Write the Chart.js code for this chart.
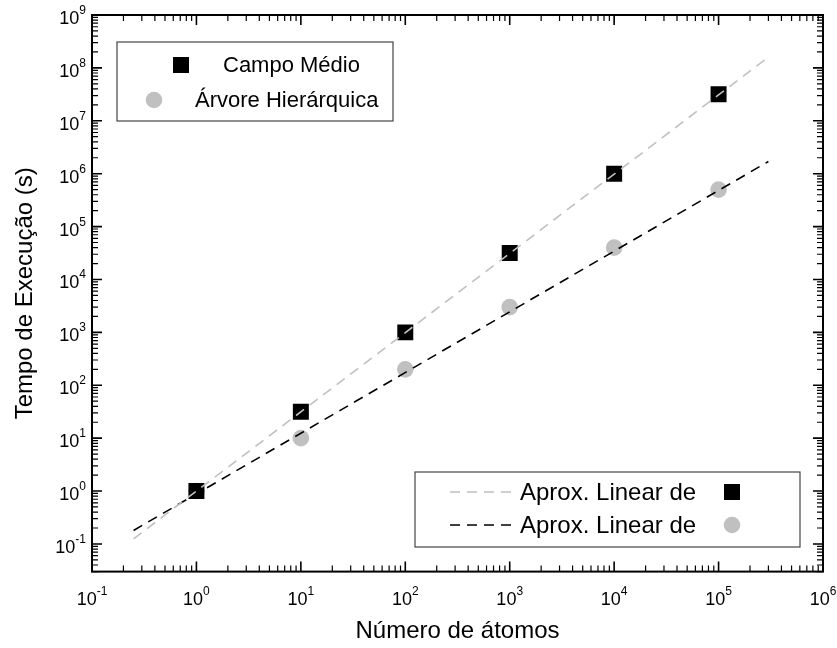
<!DOCTYPE html>
<html lang="pt-br">
<head>
<meta charset="UTF-8">
<title>Tempo de Execução x Número de átomos</title>
<script src="https://cdn.jsdelivr.net/npm/chart.js"></script>
<style>
    body { margin: 0; background: #fff; }
    #wrap { width: 837px; height: 648px; }
</style>
</head>
<body>
<div id="wrap"><canvas id="grafico" width="837" height="648"></canvas></div>
<script>
    // Dados medidos
    const atomos = [1, 10, 100, 1000, 10000, 100000];
    const tempoCampoMedio = [1, 31.6, 1000, 31600, 1000000, 31600000];
    const tempoArvore = [1, 10, 200, 3000, 40000, 500000];

    // Pontas das retas de ajuste (log-log)
    const ajusteX = [0.25, 300000];
    const ajusteCampoMedio = [0.125, 160000000];
    const ajusteArvore = [0.18, 1700000];

    // Expoentes dos rótulos dos eixos
    const expoentesX = [-1, 0, 1, 2, 3, 4, 5, 6];
    const expoentesY = [-1, 0, 1, 2, 3, 4, 5, 6, 7, 8, 9];

    const nomeCampo = 'Campo Médio';
    const nomeArvore = 'Árvore Hierárquica';
    const nomeAjuste = 'Aprox. Linear de';

    const FONTE = "'Liberation Sans', Arial, sans-serif";
    const CINZA = '#c0c0c0';

    const pares = (xs, ys) => xs.map((x, i) => ({ x: x, y: ys[i] }));

    // Moldura, ticks para dentro, rótulos 10^n e as duas legendas
    const molduraPlugin = {
        id: 'moldura',
        afterDatasetsDraw(chart) {
            const { ctx, chartArea: { left, right, top, bottom }, scales: { x, y } } = chart;
            ctx.save();
            ctx.strokeStyle = '#000';

            // ticks menores e maiores
            const tick = (px, maior, horiz) => {
                const len = maior ? 10 : 6;
                ctx.lineWidth = maior ? 1.6 : 1.2;
                ctx.beginPath();
                if (horiz) {
                    ctx.moveTo(px, bottom); ctx.lineTo(px, bottom - len);
                    ctx.moveTo(px, top); ctx.lineTo(px, top + len);
                } else {
                    ctx.moveTo(left, px); ctx.lineTo(left + len, px);
                    ctx.moveTo(right, px); ctx.lineTo(right - len, px);
                }
                ctx.stroke();
            };
            const marcar = (escala, horiz) => {
                const e0 = Math.floor(Math.log10(escala.min));
                const e1 = Math.ceil(Math.log10(escala.max));
                for (let e = e0; e <= e1; e++) {
                    for (let m = 1; m < 10; m++) {
                        const v = m * Math.pow(10, e);
                        if (v < escala.min * 0.999 || v > escala.max * 1.001) continue;
                        tick(escala.getPixelForValue(v), m === 1, horiz);
                    }
                }
            };
            marcar(x, true);
            marcar(y, false);

            ctx.lineWidth = 2;
            ctx.strokeRect(left, top, right - left, bottom - top);

            // rótulos 10^n
            ctx.fillStyle = '#000';
            ctx.textBaseline = 'alphabetic';
            const fBase = '18px ' + FONTE, fSup = '12px ' + FONTE;
            expoentesX.forEach(n => {
                const px = x.getPixelForValue(Math.pow(10, n));
                ctx.font = fBase; const wb = ctx.measureText('10').width;
                ctx.font = fSup; const ws = ctx.measureText(String(n)).width;
                const x0 = px - (wb + ws) / 2;
                ctx.font = fBase; ctx.textAlign = 'left';
                ctx.fillText('10', x0, bottom + 33);
                ctx.font = fSup;
                ctx.fillText(String(n), x0 + wb, bottom + 23);
            });
            expoentesY.forEach(n => {
                const py = y.getPixelForValue(Math.pow(10, n));
                ctx.font = fSup; const ws = ctx.measureText(String(n)).width;
                ctx.font = fBase; const wb = ctx.measureText('10').width;
                const x1 = left - 6;
                ctx.textAlign = 'left';
                ctx.fillText('10', x1 - ws - wb, py + 9);
                ctx.font = fSup;
                ctx.fillText(String(n), x1 - ws, py - 1);
            });

            const ds = chart.data.datasets;
            const simbolo = (d, cx, cy) => {
                ctx.fillStyle = d.backgroundColor;
                if (d.pointStyle === 'rect') {
                    const s = d.pointRadius * Math.SQRT1_2;
                    ctx.fillRect(cx - s, cy - s, 2 * s, 2 * s);
                } else {
                    ctx.beginPath();
                    ctx.arc(cx, cy, d.pointRadius, 0, 2 * Math.PI);
                    ctx.fill();
                }
            };
            const caixa = (bx, by, bw, bh) => {
                ctx.fillStyle = '#fff';
                ctx.fillRect(bx, by, bw, bh);
                ctx.strokeStyle = '#444';
                ctx.lineWidth = 1.2;
                ctx.strokeRect(bx, by, bw, bh);
            };

            ctx.textBaseline = 'middle';
            ctx.textAlign = 'left';

            // legenda dos pontos
            const lx = left + 25, ly = top + 27;
            caixa(lx, ly, 276, 79);
            ctx.font = '22px ' + FONTE;
            simbolo(ds[2], lx + 64, ly + 23);
            ctx.fillStyle = '#000';
            ctx.fillText(ds[2].label, lx + 106, ly + 24);
            simbolo(ds[3], lx + 37, ly + 58);
            ctx.fillStyle = '#000';
            ctx.fillText(ds[3].label, lx + 78, ly + 59);

            // legenda das retas
            const rx = left + 323, ry = top + 457;
            caixa(rx, ry, 385, 75);
            ctx.font = '24px ' + FONTE;
            [[ds[0], ds[2], 20], [ds[1], ds[3], 53]].forEach(([reta, ponto, dy]) => {
                ctx.strokeStyle = reta.borderColor;
                ctx.lineWidth = reta.borderWidth;
                ctx.setLineDash(reta.borderDash);
                ctx.beginPath();
                ctx.moveTo(rx + 35, ry + dy);
                ctx.lineTo(rx + 97, ry + dy);
                ctx.stroke();
                ctx.setLineDash([]);
                ctx.fillStyle = '#000';
                ctx.fillText(reta.label, rx + 105, ry + dy + 1);
                simbolo(ponto, rx + 317, ry + dy);
            });
            ctx.restore();
        }
    };

    new Chart(document.getElementById('grafico'), {
        type: 'scatter',
        data: {
            datasets: [
                {
                    label: nomeAjuste,
                    data: pares(ajusteX, ajusteCampoMedio),
                    showLine: true,
                    borderColor: CINZA,
                    borderWidth: 1.6,
                    borderDash: [10, 7],
                    pointRadius: 0,
                    order: 0
                },
                {
                    label: nomeAjuste,
                    data: pares(ajusteX, ajusteArvore),
                    showLine: true,
                    borderColor: '#000',
                    borderWidth: 1.6,
                    borderDash: [10, 7],
                    pointRadius: 0,
                    order: 1
                },
                {
                    label: nomeCampo,
                    data: pares(atomos, tempoCampoMedio),
                    pointStyle: 'rect',
                    pointRadius: 11.3,
                    pointHoverRadius: 11.3,
                    backgroundColor: '#000',
                    borderWidth: 0,
                    order: 2
                },
                {
                    label: nomeArvore,
                    data: pares(atomos, tempoArvore),
                    pointStyle: 'circle',
                    pointRadius: 8.3,
                    pointHoverRadius: 8.3,
                    backgroundColor: CINZA,
                    borderWidth: 0,
                    order: 3
                }
            ]
        },
        options: {
            responsive: false,
            animation: false,
            events: [],
            layout: { padding: { top: 15, right: 14, bottom: 0, left: 0 } },
            plugins: { legend: { display: false }, tooltip: { enabled: false } },
            scales: {
                x: {
                    type: 'logarithmic',
                    min: 0.1,
                    max: 1e6,
                    grid: { display: false, drawTicks: false },
                    border: { display: false },
                    ticks: { display: false },
                    title: {
                        display: true,
                        text: 'Número de átomos',
                        color: '#000',
                        font: { family: FONTE, size: 24 },
                        padding: { top: 45, bottom: 2.6 }
                    }
                },
                y: {
                    type: 'logarithmic',
                    min: 0.03,
                    max: 1e9,
                    grid: { display: false, drawTicks: false },
                    border: { display: false },
                    ticks: { display: false },
                    title: {
                        display: true,
                        text: 'Tempo de Execução (s)',
                        color: '#000',
                        font: { family: FONTE, size: 24 },
                        padding: { top: 10.6, bottom: 52.6 }
                    }
                }
            }
        },
        plugins: [molduraPlugin]
    });
</script>
</body>
</html>
